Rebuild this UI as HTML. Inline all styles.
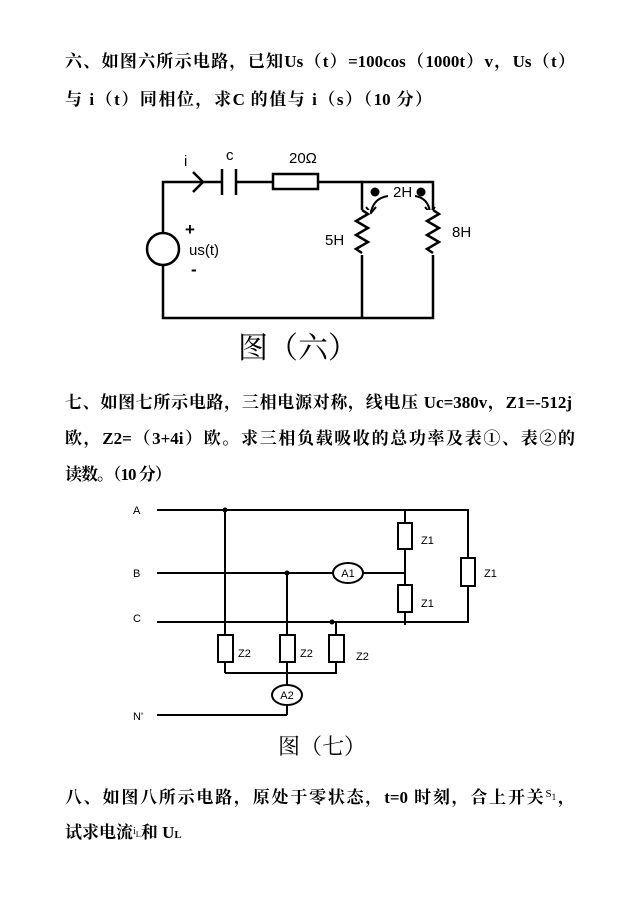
<!DOCTYPE html>
<html><head><meta charset="utf-8"><style>
body{margin:0;width:634px;height:901px;background:#fff;position:relative;overflow:hidden;font-family:"Liberation Serif","Noto Serif CJK SC","Noto Sans CJK SC",serif;}
.t{position:absolute;left:65px;font-size:17px;font-weight:bold;white-space:nowrap;color:#000;}
.j{text-align:justify;text-align-last:justify;white-space:normal;}
svg{position:absolute;left:0;top:0;}
</style></head><body>
<div class="t j" style="top:47px;width:510px">六、如图六所示电路，已知Us（t）=100cos（1000t）v，Us（t）</div>
<div class="t j" style="top:85px;width:367px">与 i（t）同相位，求C 的值与 i（s）（10 分）</div>
<div class="t j" style="top:388px;width:507px">七、如图七所示电路，三相电源对称，线电压 Uc=380v，Z1=-512j</div>
<div class="t j" style="top:424px;width:510px">欧，Z2=（3+4i）欧。求三相负载吸收的总功率及表①、表②的</div>
<div class="t" style="top:460px;letter-spacing:-1px">读数。（10 分）</div>
<div class="t j" style="top:783px;width:510px">八、如图八所示电路，原处于零状态，t=0 时刻，合上开关<span style="font-weight:normal;font-size:11px;vertical-align:6px">S<sub>1</sub></span>，</div>
<div class="t" style="top:818px">试求电流<span style="font-weight:normal;font-size:10px;vertical-align:4px">i<sub>L</sub></span>和 U<span style="font-size:11px">L</span></div>
<svg width="634" height="901" font-family="Liberation Sans, sans-serif">
<g stroke="#000" stroke-width="2.5" fill="none">
<polyline points="222,182 163,182 163,318 433,318 433,182 362,182 362,318"/>
<line x1="236" y1="182" x2="273" y2="182"/><line x1="318" y1="182" x2="362" y2="182"/>
<line x1="222" y1="169" x2="222" y2="195"/><line x1="236" y1="169" x2="236" y2="195"/>
<rect x="273" y="174" width="45" height="15"/>
<polyline points="193,172 203,182 193,192"/>
<circle cx="163" cy="249" r="16" fill="#fff"/>
<path d="M388,196 Q374,198 371,212" stroke-width="2"/><polyline points="366,207 371,213 376,207" stroke-width="2"/>
<path d="M415,196 Q428,198 430,212" stroke-width="2"/><polyline points="425,207 430,213 435,207" stroke-width="2"/>
</g>
<rect x="354" y="210" width="16" height="45" fill="#fff"/>
<rect x="425" y="210" width="16" height="45" fill="#fff"/>
<polyline points="362,210 368,214 356,221 368,228 356,235 368,242 356,249 362,253" stroke="#000" stroke-width="2.5" fill="none"/>
<polyline points="433,210 439,214 427,221 439,228 427,235 439,242 427,249 433,253" stroke="#000" stroke-width="2.5" fill="none"/>
<circle cx="375" cy="192" r="4.5"/><circle cx="421" cy="192" r="4.5"/>
<g font-size="15" fill="#000">
<text x="184" y="166">i</text><text x="226" y="160">c</text><text x="289" y="163">20Ω</text>
<text x="393" y="197">2H</text><text x="325" y="245">5H</text><text x="452" y="237">8H</text>
<text x="185" y="235" font-weight="bold" font-size="17">+</text><text x="189" y="255">us(t)</text><text x="191" y="275" font-weight="bold" font-size="17">-</text>
</g>
<text x="298" y="358" font-size="30" text-anchor="middle" font-family="Noto Serif CJK SC, serif">图（六）</text>

<g stroke="#000" stroke-width="2" fill="none">
<polyline points="157,510 468,510 468,622 157,622"/>
<line x1="157" y1="573" x2="333" y2="573"/><line x1="363" y1="573" x2="405" y2="573"/>
<line x1="405" y1="510" x2="405" y2="625"/>
<line x1="157" y1="715" x2="287" y2="715"/>
<line x1="225" y1="510" x2="225" y2="673"/>
<line x1="287" y1="573" x2="287" y2="715"/>
<polyline points="332,622 336,622 336,673 225,673"/>
<rect x="218" y="635" width="15" height="27" fill="#fff"/>
<rect x="280" y="635" width="15" height="27" fill="#fff"/>
<rect x="329" y="635" width="15" height="27" fill="#fff"/>
<rect x="398" y="523" width="14" height="26" fill="#fff"/>
<rect x="398" y="585" width="14" height="27" fill="#fff"/>
<rect x="461" y="558" width="14" height="28" fill="#fff"/>
<ellipse cx="348" cy="573" rx="15" ry="10" fill="#fff"/>
<ellipse cx="287" cy="695" rx="15" ry="10" fill="#fff"/>
</g>
<circle cx="225" cy="510" r="2.5"/><circle cx="287" cy="573" r="2.5"/><circle cx="332" cy="622" r="2.5"/>
<g font-size="11" fill="#000">
<text x="133" y="514">A</text><text x="133" y="577">B</text><text x="133" y="622">C</text><text x="133" y="720">N'</text>
<text x="421" y="544">Z1</text><text x="421" y="607">Z1</text><text x="484" y="577">Z1</text>
<text x="238" y="657">Z2</text><text x="300" y="657">Z2</text><text x="356" y="660">Z2</text>
<text x="348" y="577" text-anchor="middle">A1</text><text x="287" y="699" text-anchor="middle">A2</text>
</g>
<text x="322" y="754" font-size="22" text-anchor="middle" font-family="Noto Serif CJK SC, serif">图（七）</text>
</svg>
</body></html>
